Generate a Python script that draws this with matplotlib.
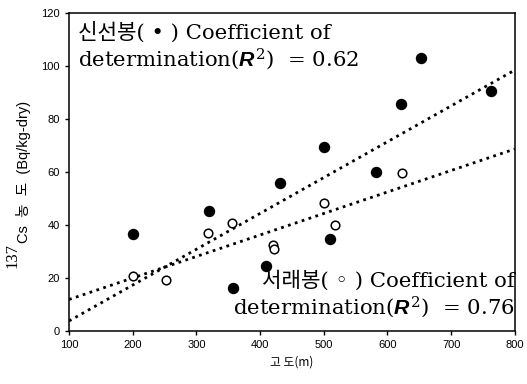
import matplotlib.pyplot as plt
import numpy as np

plt.rcParams['font.family'] = ['Liberation Sans', 'Noto Sans CJK KR']
plt.rcParams['mathtext.fontset'] = 'custom'
plt.rcParams['mathtext.it'] = 'Liberation Sans:italic:bold'
plt.rcParams['mathtext.rm'] = 'DejaVu Serif'

# altitude (m) vs 137Cs concentration (Bq/kg-dry)
alt_sinseon = [200, 320, 357, 410, 432, 500, 509, 582, 621, 653, 763]
cs_sinseon = [36.6, 45.3, 16.2, 24.5, 56.0, 69.5, 34.6, 59.9, 85.5, 103.0, 90.6]

alt_seorae = [200, 252, 318, 356, 420, 422, 500, 518, 622]
cs_seorae = [20.8, 19.2, 37.1, 40.6, 32.4, 30.8, 48.4, 40.0, 59.5]

# linear fits (value at 100 m, value at 800 m)
fit_x = [100, 800]
fit_sinseon = [3.8, 98.5]
fit_seorae = [11.9, 68.7]

xticks = [100, 200, 300, 400, 500, 600, 700, 800]
yticks = [0, 20, 40, 60, 80, 100, 120]

fig = plt.figure(figsize=(5.27, 3.84), dpi=100)
ax = fig.add_axes([0.131, 0.138, 0.846, 0.828])

ax.plot(fit_x, fit_sinseon, color='black', linestyle=(0, (1, 1.6)), linewidth=2)
ax.plot(fit_x, fit_seorae, color='black', linestyle=(0, (1, 1.6)), linewidth=2)

ax.plot(alt_sinseon, cs_sinseon, 'o', color='black', markersize=7.2, zorder=3)
ax.plot(alt_seorae, cs_seorae, 'o', markerfacecolor='white', markeredgecolor='black',
        markersize=6.2, markeredgewidth=1.1, zorder=3)

ax.set_xlim(100, 800)
ax.set_ylim(0, 120)
ax.set_xticks(xticks)
ax.set_yticks(yticks)
ax.tick_params(direction='out', length=3, width=1, labelsize=8)
for s in ax.spines.values():
    s.set_linewidth(1.1)

txt_font = ['DejaVu Serif', 'DejaVu Sans', 'Noto Sans CJK KR']
ax.text(0.019, 0.974,
        '신선봉( • ) Coefficient of\ndetermination($R^2$)  = 0.62',
        transform=ax.transAxes, ha='left', va='top', fontsize=15.3,
        family=txt_font, linespacing=1.17, zorder=4)
ax.text(1.0, 0.035,
        '서래봉( ◦ ) Coefficient of\ndetermination($R^2$)  = 0.76',
        transform=ax.transAxes, ha='right', va='bottom', fontsize=15.3,
        family=txt_font, linespacing=1.17, zorder=4)

ax.set_xlabel('고 도(m)', fontsize=8.5, family=['Noto Sans CJK KR'], labelpad=4)

# y label: superscript mass number, then the rest of the label
t137 = fig.text(12 / 527, 1 - 268 / 384, '137', rotation=90, ha='center', va='bottom',
                fontsize=12, family='Liberation Serif')
ax.annotate('Cs  농  도  (Bq/kg-dry)', xy=(24 / 527, 1.0),
            xycoords=('figure fraction', t137), rotation=90,
            ha='center', va='bottom', fontsize=10.5,
            family=['Liberation Sans', 'Noto Sans CJK KR'], annotation_clip=False)

fig.savefig('out.png', dpi=100)
